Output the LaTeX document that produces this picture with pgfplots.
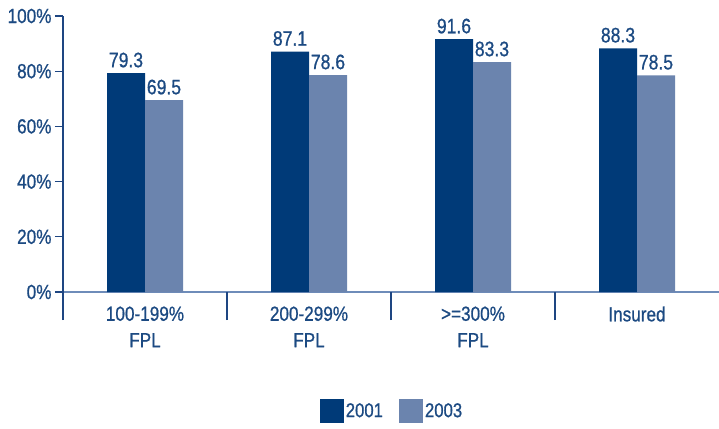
\documentclass[border=0pt]{standalone}
\usepackage{pgfplots}
\pgfplotsset{compat=1.18}
\usepackage{fontspec}
\setmainfont{Liberation Sans}[FakeStretch=0.84, FakeBold=0.8]
\definecolor{dark}{RGB}{0,58,120}
\definecolor{light}{RGB}{107,132,174}
\definecolor{txt}{RGB}{28,74,130}
\definecolor{axisc}{RGB}{30,70,130}
\definecolor{basec}{RGB}{110,140,185}
\begin{document}
\begin{tikzpicture}
\useasboundingbox (0,0) rectangle (719bp,429bp);
\begin{axis}[
  at={(63bp,137bp)}, anchor=south west,
  scale only axis, width=656bp, height=276bp,
  xmin=-0.5, xmax=3.5, ymin=0, ymax=100,
  clip=false,
  ybar=0pt, bar width=38bp,
  axis y line*=left, axis x line*=bottom,
  y axis line style={axisc, line width=1.3bp, -},
  x axis line style={basec, line width=1.3bp, -},
  /pgf/number format/assume math mode=true,
  ytick={0,20,...,100},
  yticklabel={\pgfmathprintnumber{\tick}\%},
  ytick style={axisc, line width=1.3bp},
  major tick length=8bp, tick align=outside,
  yticklabel style={text=txt, font=\fontsize{20.5}{22}\selectfont},
  xtick={0,1,2,3},
  xticklabels={100-199\%\\FPL, 200-299\%\\FPL, >=300\%\\FPL, Insured},
  xtick style={draw=none},
  xticklabel style={align=center, text=txt, font=\fontsize{20.5}{26.5}\selectfont, anchor=north, yshift=-3bp},
  extra x ticks={-0.5,0.5,1.5,2.5},
  extra x tick labels={},
  extra x tick style={major tick length=28bp, xtick style={draw=axisc, line width=1.3bp}},
  nodes near coords={\pgfmathprintnumber[fixed,precision=1,fixed zerofill]{\pgfplotspointmeta}},
  nodes near coords style={text=txt, font=\fontsize{21}{22}\selectfont, inner sep=1.5bp, anchor=south, yshift=4bp},
  legend image code/.code={\fill[#1] (0bp,-12bp) rectangle (24bp,12bp);},
  legend columns=2,
  legend style={at={(0.5015,-0.431)}, anchor=center, draw=none, fill=none,
    font=\fontsize{20}{20}\selectfont, text=txt,
    /tikz/every even column/.append style={column sep=14bp}},
]
\addplot[fill=dark, draw=none] coordinates {(0,79.3) (1,87.1) (2,91.6) (3,88.3)};
\addplot[fill=light, draw=none] coordinates {(0,69.5) (1,78.6) (2,83.3) (3,78.5)};
\legend{2001,2003}
\end{axis}
\end{tikzpicture}
\end{document}
